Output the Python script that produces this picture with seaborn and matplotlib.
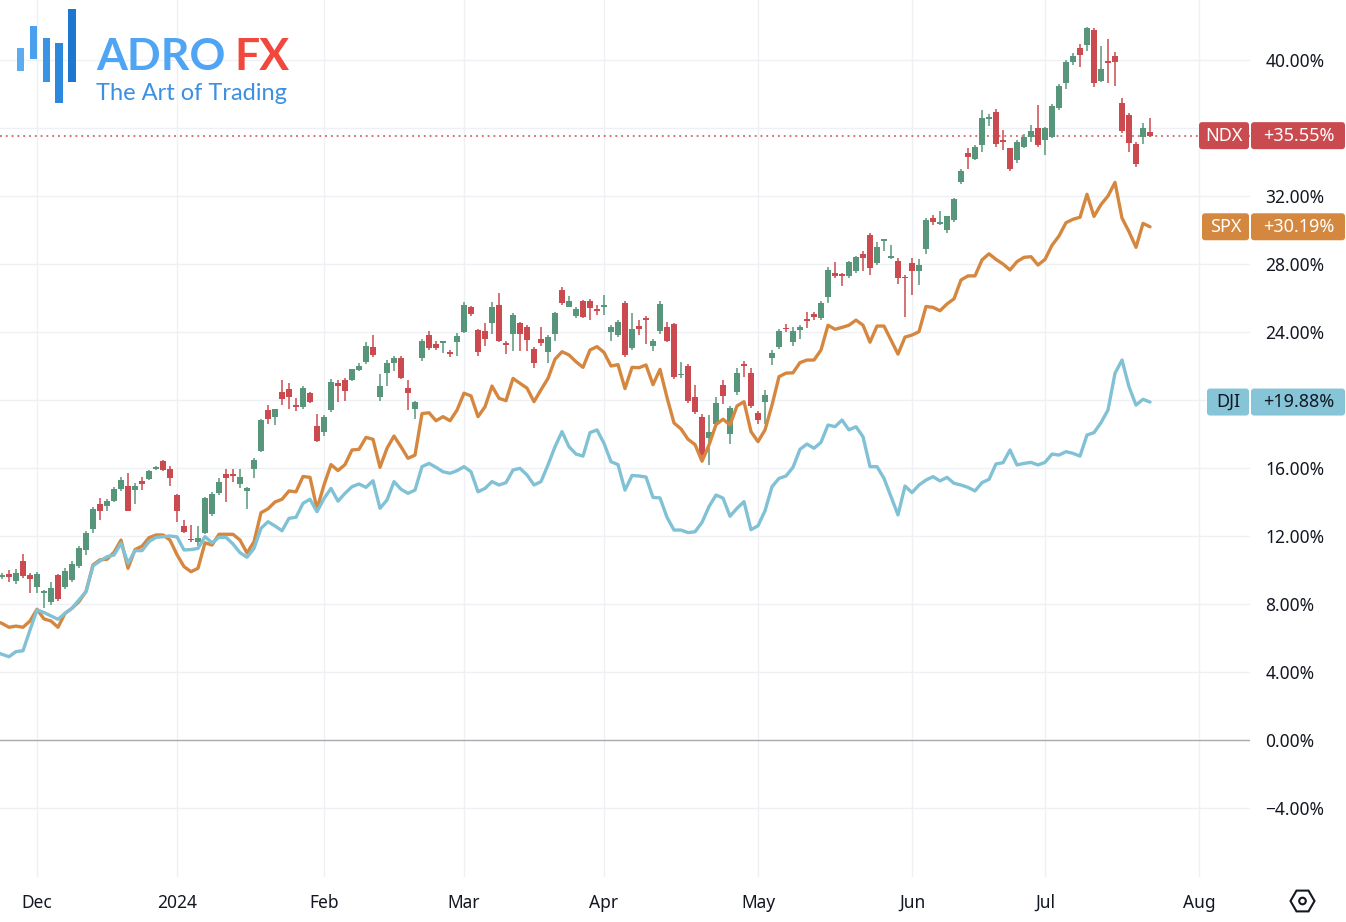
import numpy as np
import pandas as pd
import matplotlib
matplotlib.use("Agg")
import matplotlib.pyplot as plt
import seaborn as sns
from matplotlib.patches import FancyBboxPatch, Rectangle, RegularPolygon, Circle
from matplotlib.transforms import IdentityTransform

W, H = 1346, 922

# ---------------- data ----------------
holidays = ["2023-11-23", "2023-12-25", "2024-01-01", "2024-01-15", "2024-02-19",
            "2024-03-29", "2024-05-27", "2024-06-19", "2024-07-04"]
all_days = pd.bdate_range("2023-11-22", "2024-08-01")
all_days = all_days[~all_days.isin(pd.to_datetime(holidays))]
dates = all_days[all_days <= "2024-07-23"]

spx = [7.0,
       6.86, 6.63, 6.7, 6.63, 7.0, 7.69, 7.12, 7.0, 6.63, 7.45,
       7.75, 8.14, 8.73, 10.3, 10.6, 10.63, 11.04, 11.76, 10.1, 11.2,
       11.4, 11.9, 12.06, 12.06, 11.76, 10.9, 10.2, 9.9, 10.1, 11.6,
       11.47, 12.1, 12.1, 12.1, 11.76, 11.0, 11.66, 13.37, 13.6, 14.0,
       14.16, 14.65, 14.6, 15.5, 15.45, 13.6, 15.0, 16.2, 15.85, 16.2,
       17.06, 17.1, 17.8, 17.69, 16.04, 17.16, 17.88, 17.25, 16.57, 16.76,
       19.2, 19.25, 18.78, 19.02, 18.78, 19.4, 20.4, 20.24, 19.02, 19.6,
       20.82, 20.1, 19.96, 21.27, 20.98, 20.7, 19.9, 20.6, 21.27, 22.4,
       22.84, 22.65, 22.25, 21.92, 22.94, 23.14, 22.8, 22.0, 22.08, 20.67,
       21.92, 21.9, 22.06, 20.9, 21.8, 20.15, 18.65, 18.3, 17.69, 17.38,
       16.4, 17.35, 18.55, 18.87, 18.53, 19.65, 19.9, 18.14, 17.55, 18.24,
       19.7, 21.37, 21.58, 21.6, 22.2, 22.35, 22.35, 22.94, 24.4, 24.16,
       24.27, 24.4, 24.7, 24.4, 23.4, 24.35, 24.35, 23.53, 22.7, 23.7,
       23.82, 24.02, 25.5, 25.45, 25.25, 25.65, 25.95, 27.06, 27.3, 27.3,
       28.24, 28.6, 28.27, 28.0, 27.65, 28.14, 28.39, 28.43, 27.94, 28.27,
       29.1, 29.65, 30.43, 30.63, 30.75, 32.1, 30.8, 31.5, 32.0, 32.8,
       30.7, 29.9, 28.98, 30.39, 30.19]

dji = [5.2,
       5.04, 4.9, 5.2, 5.25, 6.47, 7.65, 7.5, 7.3, 7.1, 7.45,
       7.75, 8.24, 8.73, 10.24, 10.53, 10.78, 10.88, 11.57, 10.4, 11.14,
       11.14, 11.67, 11.92, 11.96, 12.0, 11.95, 11.18, 11.2, 11.27, 11.96,
       11.6, 11.92, 11.92, 11.53, 11.02, 10.75, 11.27, 12.45, 12.84, 12.59,
       12.31, 13.04, 13.1, 13.92, 14.16, 13.43, 14.2, 14.8, 14.05, 14.51,
       14.9, 15.06, 14.86, 15.25, 13.63, 14.12, 15.2, 14.75, 14.51, 14.7,
       16.08, 16.27, 16.04, 15.78, 15.69, 15.84, 16.08, 15.78, 14.6, 14.8,
       15.2, 15.0, 15.14, 15.88, 15.98, 15.59, 15.0, 15.2, 16.18, 17.25,
       18.14, 17.25, 16.82, 16.7, 18.08, 18.24, 17.45, 16.37, 16.2, 14.7,
       15.56, 15.53, 15.47, 14.27, 14.24, 13.1, 12.35, 12.35, 12.2, 12.25,
       12.8, 13.73, 14.41, 14.23, 13.16, 13.63, 14.02, 12.37, 12.6, 13.48,
       14.9, 15.39, 15.53, 16.04, 17.1, 17.41, 17.16, 17.51, 18.53, 18.43,
       18.82, 18.24, 18.43, 17.84, 16.08, 16.08, 15.39, 14.31, 13.24, 14.94,
       14.55, 15.0, 15.29, 15.49, 15.24, 15.45, 15.1, 15.0, 14.86, 14.65,
       15.14, 15.33, 16.24, 16.31, 17.06, 16.18, 16.27, 16.33, 16.18, 16.33,
       16.82, 16.76, 16.96, 16.86, 16.7, 17.94, 18.08, 18.67, 19.41, 21.57,
       22.35, 20.78, 19.7, 20.04, 19.88]

ndx_open = [9.6,
            9.6, 9.75, 9.37, 10.55, 9.7, 9.02, 8.65, 8.1, 9.7, 9.0,
            9.4, 10.25, 11.2, 12.4, 13.86, 13.78, 14.08, 14.75, 14.96, 14.7,
            15.25, 15.35, 15.95, 16.4, 15.95, 14.4, 12.6, 11.85, 11.66, 12.2,
            13.3, 14.55, 15.65, 15.65, 15.06, 14.65, 15.92, 17.0, 19.4, 18.98,
            20.45, 20.65, 19.7, 19.6, 20.4, 18.47, 18.1, 19.4, 21.0, 21.2,
            21.2, 21.76, 22.25, 23.1, 20.15, 21.6, 22.2, 22.5, 20.7, 19.45,
            22.5, 23.8, 23.3, 23.35, 22.8, 23.4, 24.0, 25.45, 24.1, 24.07,
            24.55, 25.6, 23.35, 23.9, 24.55, 24.3, 23.0, 23.6, 22.8, 23.9,
            26.47, 25.5, 24.95, 25.8, 25.85, 25.35, 25.5, 24.0, 23.8, 25.7,
            23.05, 24.35, 24.8, 23.2, 24.07, 24.3, 24.5, 21.45, 22.0, 20.15,
            19.0, 17.75, 18.6, 20.9, 18.0, 20.5, 22.1, 21.57, 19.25, 19.9,
            22.45, 23.1, 24.25, 23.4, 24.1, 24.75, 25.06, 24.8, 26.04, 27.5,
            27.4, 27.3, 27.6, 28.6, 29.7, 28.05, 29.35, 28.33, 28.2, 27.25,
            28.04, 27.6, 28.86, 30.7, 30.35, 30.0, 30.6, 32.8, 34.55, 34.16,
            35.0, 36.55, 36.96, 35.3, 34.8, 34.1, 34.9, 35.45, 35.98, 35.3,
            35.5, 37.16, 38.67, 39.9, 40.7, 40.9, 41.76, 38.76, 39.95, 40.24,
            37.45, 36.76, 35.06, 35.5, 35.76]

ndx_high = [9.9,
            9.8, 10.0, 10.05, 10.94, 9.85, 9.9, 8.85, 9.3, 9.75, 10.1,
            10.55, 11.4, 12.3, 13.7, 14.25, 14.2, 14.9, 15.45, 15.7, 15.1,
            15.5, 15.9, 16.1, 16.45, 16.1, 14.5, 12.95, 12.65, 12.6, 14.3,
            14.6, 15.4, 15.95, 15.95, 15.95, 14.9, 16.6, 18.9, 19.7, 19.5,
            21.2, 21.0, 20.1, 20.8, 20.5, 19.2, 19.1, 21.25, 21.2, 21.3,
            21.85, 22.2, 23.4, 23.8, 21.55, 22.35, 22.6, 22.6, 21.2, 19.95,
            23.6, 24.05, 23.5, 23.5, 22.95, 23.95, 25.75, 25.55, 24.2, 24.55,
            25.75, 26.3, 23.5, 25.1, 24.6, 24.4, 23.1, 24.3, 23.8, 25.2,
            26.65, 26.1, 25.5, 25.9, 25.95, 25.6, 26.2, 24.4, 24.7, 25.8,
            25.1, 24.7, 24.95, 23.6, 25.8, 24.6, 24.55, 22.25, 22.1, 20.9,
            19.2, 19.1, 20.15, 21.2, 19.65, 21.9, 22.3, 21.9, 19.35, 20.6,
            22.95, 24.15, 24.5, 24.3, 24.4, 25.2, 25.15, 25.8, 27.8, 28.1,
            27.5, 28.2, 28.5, 28.75, 29.8, 29.3, 29.5, 29.1, 28.35, 27.35,
            28.35, 28.3, 30.7, 30.9, 31.1, 30.85, 31.9, 33.6, 34.8, 35.0,
            37.05, 36.8, 37.1, 35.9, 34.85, 35.3, 35.65, 36.2, 37.35, 36.05,
            37.4, 38.6, 40.0, 40.4, 40.95, 41.96, 41.86, 40.85, 41.25, 40.5,
            37.75, 36.9, 35.2, 36.3, 36.6]

ndx_low = [9.4,
           9.5, 9.3, 9.2, 9.55, 8.65, 8.65, 7.76, 7.95, 8.2, 8.9,
           9.3, 10.1, 10.9, 12.2, 12.95, 13.5, 14.0, 14.65, 13.45, 13.9,
           14.7, 15.3, 15.9, 15.85, 14.95, 12.8, 12.15, 11.65, 11.4, 12.1,
           13.2, 14.4, 14.0, 15.2, 14.8, 13.6, 15.4, 16.95, 18.6, 18.55,
           19.7, 19.5, 19.35, 19.5, 19.8, 17.55, 17.9, 19.3, 19.9, 19.95,
           21.1, 21.7, 22.1, 22.55, 19.95, 20.85, 21.7, 21.25, 19.4, 18.9,
           22.3, 22.95, 22.95, 22.75, 22.55, 22.6, 23.95, 24.95, 22.6, 23.15,
           23.9, 23.4, 22.7, 22.9, 22.9, 22.9, 21.9, 23.15, 22.2, 23.5,
           25.6, 25.45, 24.85, 24.8, 24.7, 25.0, 25.0, 23.5, 23.7, 22.55,
           22.95, 23.8, 23.3, 22.9, 23.9, 23.4, 21.25, 21.3, 19.85, 19.2,
           16.4, 16.2, 18.5, 19.75, 17.4, 20.3, 21.35, 19.55, 18.6, 18.6,
           22.05, 23.0, 24.0, 23.2, 23.6, 24.25, 24.7, 24.7, 25.7, 27.2,
           26.7, 27.2, 27.5, 27.6, 27.35, 27.95, 28.75, 28.3, 26.85, 24.86,
           26.2, 26.75, 28.6, 30.3, 30.3, 29.85, 30.45, 32.7, 33.6, 34.1,
           34.6, 36.1, 34.9, 34.7, 33.5, 33.95, 34.8, 35.2, 34.9, 34.4,
           35.4, 37.05, 38.3, 39.7, 39.6, 40.55, 38.4, 38.7, 38.65, 38.5,
           35.7, 34.6, 33.7, 35.05, 35.45]

ndx_close = [9.7,
             9.65, 9.6, 9.84, 9.66, 9.45, 9.76, 8.75, 8.96, 8.27, 9.94,
             10.35, 11.3, 12.2, 13.6, 13.45, 14.06, 14.75, 15.3, 13.5, 14.96,
             15.06, 15.8, 16.05, 15.9, 15.4, 13.5, 12.25, 11.75, 11.86, 14.25,
             14.45, 15.2, 15.4, 15.55, 15.5, 14.85, 16.5, 18.8, 18.86, 19.45,
             20.04, 20.2, 19.6, 20.7, 19.9, 17.6, 19.0, 21.04, 20.8, 20.55,
             21.8, 22.0, 23.2, 22.65, 20.8, 22.2, 22.5, 21.3, 20.4, 19.9,
             23.5, 23.05, 23.05, 23.45, 22.7, 23.75, 25.6, 25.04, 22.8, 23.57,
             25.5, 23.5, 23.25, 25.0, 23.9, 23.55, 22.15, 23.35, 23.7, 25.1,
             25.7, 25.8, 25.35, 24.9, 25.4, 25.25, 25.6, 24.3, 24.6, 22.65,
             24.2, 24.15, 24.7, 23.5, 25.65, 23.5, 21.35, 21.55, 19.95, 19.3,
             16.75, 18.1, 19.85, 20.25, 19.55, 21.57, 22.0, 19.65, 18.8, 20.3,
             22.75, 24.07, 24.15, 24.06, 24.3, 24.65, 24.86, 25.7, 27.65, 27.3,
             27.3, 28.1, 28.4, 28.33, 27.75, 29.0, 29.45, 28.5, 27.2, 27.15,
             27.6, 27.94, 30.6, 30.5, 30.45, 30.8, 31.8, 33.5, 34.27, 34.9,
             36.57, 36.65, 35.06, 35.2, 33.57, 35.2, 35.5, 35.8, 35.0, 35.98,
             37.3, 38.47, 39.9, 40.24, 40.3, 41.86, 38.67, 39.45, 39.85, 39.9,
             35.84, 35.14, 33.9, 36.0, 35.55]

month_labels = ["Dec", "2024", "Feb", "Mar", "Apr", "May", "Jun", "Jul", "Aug"]
month_starts = ["2023-12-01", "2024-01-02", "2024-02-01", "2024-03-01", "2024-04-01",
                "2024-05-01", "2024-06-03", "2024-07-01", "2024-08-01"]
y_ticks = [-4, 0, 4, 8, 12, 16, 20, 24, 28, 32, 36, 40]
hidden_ticks = [20, 36]   # their labels sit behind the last-value badges
last_labels = [("NDX", "+35.55%", 35.55), ("SPX", "+30.19%", 30.19), ("DJI", "+19.88%", 19.88)]

for arr in (spx, dji, ndx_open, ndx_high, ndx_low, ndx_close):
    assert len(arr) == len(dates), (len(arr), len(dates))

df = pd.DataFrame({"bar": np.arange(len(dates)), "date": dates, "SPX": spx, "DJI": dji,
                   "open": ndx_open, "high": ndx_high, "low": ndx_low, "close": ndx_close})
month_idx = [int(np.where(all_days == pd.Timestamp(d))[0][0]) for d in month_starts]

# ---------------- style ----------------
GREEN = "#58967b"
RED = "#cb4a4f"
ORANGE = "#d5873f"
BLUE = "#80c1d5"
LBL_RED = "#c94b50"
LBL_ORANGE = "#d4873f"
LBL_BLUE = "#86c4d7"
TXT = "#131722"
GRID = "#eff0f3"

sns.set_theme(style="white")
plt.rcParams["font.family"] = ["Noto Sans", "DejaVu Sans"]

fig = plt.figure(figsize=(W / 100, H / 100), dpi=100)
fig.patch.set_facecolor("white")
ax = fig.add_axes([0, 45 / H, 1250 / W, 877 / H])
ax.set_facecolor("white")

# candles
up = df["close"] >= df["open"]
cols = np.where(up, GREEN, RED)
ax.vlines(df["bar"], df["low"], df["high"], colors=cols, lw=1.1, zorder=2)
body = np.maximum((df["close"] - df["open"]).abs(), 0.08)
ax.bar(df["bar"], body, bottom=np.minimum(df["open"], df["close"]), width=0.76,
       color=cols, linewidth=0, zorder=3)

# comparison lines
sns.lineplot(data=df, x="bar", y="SPX", color=ORANGE, lw=2.4, ax=ax, zorder=4,
             solid_joinstyle="round", solid_capstyle="round")
sns.lineplot(data=df, x="bar", y="DJI", color=BLUE, lw=2.4, ax=ax, zorder=4,
             solid_joinstyle="round", solid_capstyle="round")

ax.axhline(0, color="#a9abb1", lw=1.0, zorder=1)
ax.axhline(35.55, color=LBL_RED, lw=1.1, ls=(0, (1.2, 2.6)), zorder=1)

ax.set_xlim(5 / 7, 1255 / 7)
ax.set_ylim((740 - 877) / 17, 740 / 17)
ax.set_yticks(y_ticks)
ax.set_yticklabels(["" if v in hidden_ticks else
                    ("\u2212" if v < 0 else "") + f"{abs(v):.2f}%" for v in y_ticks])
ax.yaxis.tick_right()
ax.set_xticks(month_idx)
ax.set_xticklabels(month_labels)
for t in ax.get_xticklabels():
    if t.get_text() == "2024":
        t.set_fontweight("bold")
ax.tick_params(axis="y", length=0, pad=11, labelsize=12.5, labelcolor=TXT)
ax.tick_params(axis="x", length=0, pad=12, labelsize=12.5, labelcolor=TXT)
ax.grid(True, color=GRID, lw=1.0, zorder=0)
ax.set_axisbelow(True)
for s in ax.spines.values():
    s.set_visible(False)
ax.set_xlabel("")
ax.set_ylabel("")

# ---------------- last value labels ----------------
idt = IdentityTransform()


def box(x0, y0, x1, y1, color):
    fig.add_artist(FancyBboxPatch((x0, H - y1), x1 - x0, y1 - y0,
                                  boxstyle="round,pad=0,rounding_size=3",
                                  transform=idt, fc=color, ec="none", zorder=5))


label_geo = {"NDX": (1199, LBL_RED, "white"), "SPX": (1202, LBL_ORANGE, "white"),
             "DJI": (1207, LBL_BLUE, TXT)}
for name, val_txt, val in last_labels:
    yc = 740 - 17 * val
    x0, c, tc = label_geo[name]
    box(x0, yc - 13.5, 1249, yc + 13.5, c)
    box(1251, yc - 13.5, 1345, yc + 13.5, c)
    fig.text((x0 + 1249) / 2 / W, 1 - yc / H, name, ha="center", va="center",
             fontsize=13, color=tc, zorder=6)
    fig.text(1299 / W, 1 - yc / H, val_txt, ha="center", va="center",
             fontsize=13, color=tc, zorder=6)

# ---------------- logo ----------------
for (x0, y0, x1, y1, c) in [(17, 48, 24, 71, "#5cacf2"), (30, 26, 37, 59, "#4ba0ee"),
                            (43, 38, 50, 82, "#3b93e6"), (55, 43, 63, 103, "#2c87dd"),
                            (68, 9, 76, 82, "#1d76cf")]:
    fig.add_artist(Rectangle((x0, H - y1), x1 - x0, y1 - y0, transform=idt,
                             fc=c, ec="none", zorder=5))
fig.text(96 / W, 1 - 70 / H, "ADRO", fontsize=32, fontweight="bold", color="#4fa5f3",
         family=["Lato", "DejaVu Sans"], ha="left", va="baseline", zorder=6)
fig.text(234 / W, 1 - 70 / H, "FX", fontsize=32, fontweight="bold", color="#f2473c",
         family=["Lato", "DejaVu Sans"], ha="left", va="baseline", zorder=6)
fig.text(96 / W, 1 - 100 / H, "The Art of Trading", fontsize=17, color="#3d8fe1",
         family=["Lato", "DejaVu Sans"], ha="left", va="baseline", zorder=6)

# ---------------- settings icon ----------------
fig.add_artist(RegularPolygon((1302.5, H - 901), 6, radius=12, orientation=np.pi / 6,
                              transform=idt, fc="none", ec=TXT, lw=1.5, zorder=5))
fig.add_artist(Circle((1302.5, H - 901), 3.3, transform=idt, fc="none", ec=TXT,
                      lw=1.5, zorder=5))

fig.savefig("out.png", dpi=100, facecolor="white")
